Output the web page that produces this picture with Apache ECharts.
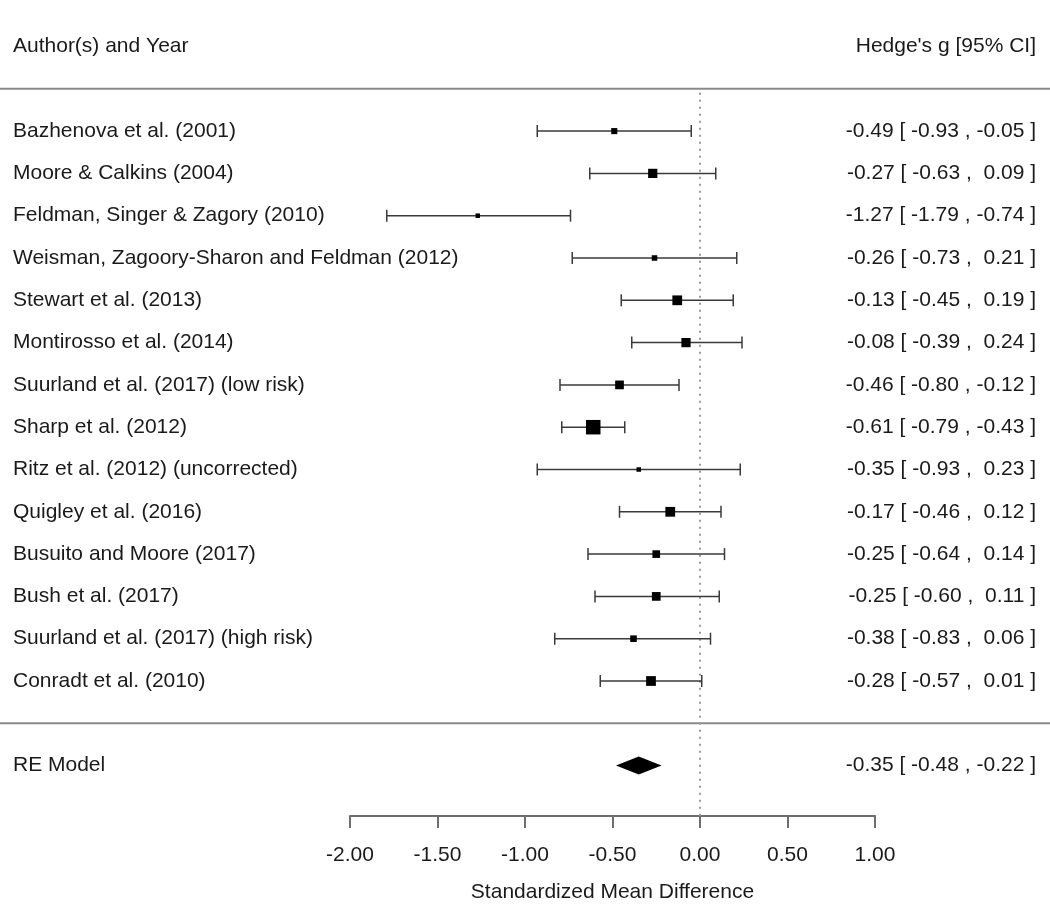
<!DOCTYPE html>
<html>
<head>
<meta charset="utf-8">
<script src="https://cdn.jsdelivr.net/npm/echarts@6/dist/echarts.min.js"></script>
<style>html,body{margin:0;padding:0;background:#fff;}#chart{width:1050px;height:904px;}</style>
</head>
<body>
<div id="chart"></div>
<script>
// ---------------- data ----------------
const studies = [
  "Bazhenova et al. (2001)",
  "Moore & Calkins (2004)",
  "Feldman, Singer & Zagory (2010)",
  "Weisman, Zagoory-Sharon and Feldman (2012)",
  "Stewart et al. (2013)",
  "Montirosso et al. (2014)",
  "Suurland et al. (2017) (low risk)",
  "Sharp et al. (2012)",
  "Ritz et al. (2012) (uncorrected)",
  "Quigley et al. (2016)",
  "Busuito and Moore (2017)",
  "Bush et al. (2017)",
  "Suurland et al. (2017) (high risk)",
  "Conradt et al. (2010)"
];
const estimates = [-0.49, -0.27, -1.27, -0.26, -0.13, -0.08, -0.46, -0.61, -0.35, -0.17, -0.25, -0.25, -0.38, -0.28];
const lowerCI   = [-0.93, -0.63, -1.79, -0.73, -0.45, -0.39, -0.80, -0.79, -0.93, -0.46, -0.64, -0.60, -0.83, -0.57];
const upperCI   = [-0.05,  0.09, -0.74,  0.21,  0.19,  0.24, -0.12, -0.43,  0.23,  0.12,  0.14,  0.11,  0.06,  0.01];
// estimated relative weights (%), read from square sizes
const weights   = [5.0, 8.0, 3.5, 4.5, 8.5, 8.0, 7.5, 13.0, 3.5, 8.5, 6.5, 7.5, 5.5, 8.5];
const summaryLabel = "RE Model";
const summaryEst = -0.35, summaryLo = -0.48, summaryHi = -0.22;
const xTicks = [-2.0, -1.5, -1.0, -0.5, 0.0, 0.5, 1.0];
const headerLeft = "Author(s) and Year";
const headerRight = "Hedge's g [95% CI]";
const xAxisName = "Standardized Mean Difference";

// ---------------- layout ----------------
const W = 1050;
const ROW_H = 42.3, ROW1_PX = 681;
const Y_MIN = -3, Y_MAX = 17;
const N = studies.length;
const HEADER_ROW = N + 2, TOP_RULE = N + 1, BOTTOM_RULE = 0, SUMMARY_ROW = -1, AXIS_ROW = -2.3;
const rowPx = v => ROW1_PX - (v - 1) * ROW_H;
const FAMILY = '"Liberation Sans", Arial, sans-serif';
const FONT = '21px ' + FAMILY;
const TEXT_COLOR = '#1a1a1a';
const LEFT_PAD = 13, RIGHT_PAD = 14;

const fmt = v => (v >= 0 ? ' ' : '') + v.toFixed(2);
const annot = (e, l, h) => `${fmt(e)} [ ${fmt(l)} , ${fmt(h)} ]`;

const wMin = Math.min(...weights), wMax = Math.max(...weights);
const sizeOf = w => 4.5 + (w - wMin) / (wMax - wMin) * 10;

const studyData = studies.map((s, i) => [estimates[i], lowerCI[i], upperCI[i], N - i, weights[i], i]);

const chart = echarts.init(document.getElementById('chart'), null, {renderer: 'canvas'});

function textEl(text, x, y, align) {
  return {
    type: 'text',
    style: {text, x, y, font: FONT, fill: TEXT_COLOR, align, verticalAlign: 'middle',
            textAlign: align, textVerticalAlign: 'middle'}
  };
}

const option = {
  animation: false,
  backgroundColor: '#fff',
  grid: [
    {left: 0, width: W, top: rowPx(Y_MAX), height: (Y_MAX - Y_MIN) * ROW_H},
    {left: 350, width: 525, top: rowPx(AXIS_ROW) - 10, height: 10}
  ],
  xAxis: [
    {gridIndex: 0, type: 'value', min: -4, max: 2, show: false},
    {gridIndex: 1, type: 'value', min: xTicks[0], max: xTicks[xTicks.length - 1], interval: xTicks[1] - xTicks[0],
     axisLine: {show: true, lineStyle: {color: '#6e6e6e', width: 2}},
     axisTick: {show: true, length: 12, lineStyle: {color: '#6e6e6e', width: 2}},
     splitLine: {show: false},
     axisLabel: {margin: 29, color: TEXT_COLOR, fontSize: 21, fontFamily: FAMILY,
                 formatter: v => v.toFixed(2), showMinLabel: true, showMaxLabel: true},
     name: xAxisName, nameLocation: 'middle', nameGap: 66,
     nameTextStyle: {color: TEXT_COLOR, fontSize: 21, fontFamily: FAMILY}}
  ],
  yAxis: [
    {gridIndex: 0, type: 'value', min: Y_MIN, max: Y_MAX, show: false},
    {gridIndex: 1, type: 'value', min: 0, max: 1, show: false}
  ],
  series: [
    {
      type: 'custom', xAxisIndex: 0, yAxisIndex: 0, clip: false, silent: true,
      data: [[0, TOP_RULE]],
      renderItem: (params, api) => {
        const x0 = params.coordSys.x, x1 = params.coordSys.x + params.coordSys.width;
        const zTop = api.coord([0, TOP_RULE]);
        const zBot = api.coord([0, AXIS_ROW]);
        const yTop = api.coord([0, TOP_RULE])[1];
        const yBot = api.coord([0, BOTTOM_RULE])[1];
        const yHead = api.coord([0, HEADER_ROW])[1];
        return {type: 'group', children: [
          {type: 'line', shape: {x1: x0, y1: yTop, x2: x1, y2: yTop}, style: {stroke: '#8a8a8a', lineWidth: 2}},
          {type: 'line', shape: {x1: x0, y1: yBot, x2: x1, y2: yBot}, style: {stroke: '#8a8a8a', lineWidth: 2}},
          {type: 'line', shape: {x1: zTop[0], y1: zTop[1] + 4, x2: zBot[0], y2: zBot[1]},
           style: {stroke: '#9a9a9a', lineWidth: 2, lineDash: [2, 5]}},
          textEl(headerLeft, x0 + LEFT_PAD, yHead, 'left'),
          textEl(headerRight, x1 - RIGHT_PAD, yHead, 'right')
        ]};
      }
    },
    {
      type: 'custom', xAxisIndex: 0, yAxisIndex: 0, clip: false, silent: true,
      data: studyData,
      renderItem: (params, api) => {
        const x0 = params.coordSys.x, x1 = params.coordSys.x + params.coordSys.width;
        const e = api.value(0), l = api.value(1), h = api.value(2), r = api.value(3), w = api.value(4);
        const i = api.value(5);
        const pe = api.coord([e, r]), pl = api.coord([l, r]), ph = api.coord([h, r]);
        const s = sizeOf(w);
        const cap = 6;
        return {type: 'group', children: [
          {type: 'line', shape: {x1: pl[0], y1: pl[1], x2: ph[0], y2: ph[1]}, style: {stroke: '#3a3a3a', lineWidth: 1.5}},
          {type: 'line', shape: {x1: pl[0], y1: pl[1] - cap, x2: pl[0], y2: pl[1] + cap}, style: {stroke: '#3a3a3a', lineWidth: 1.5}},
          {type: 'line', shape: {x1: ph[0], y1: ph[1] - cap, x2: ph[0], y2: ph[1] + cap}, style: {stroke: '#3a3a3a', lineWidth: 1.5}},
          {type: 'rect', shape: {x: pe[0] - s / 2, y: pe[1] - s / 2, width: s, height: s}, style: {fill: '#000'}},
          textEl(studies[i], x0 + LEFT_PAD, pe[1], 'left'),
          textEl(annot(e, l, h), x1 - RIGHT_PAD, pe[1], 'right')
        ]};
      }
    },
    {
      type: 'custom', xAxisIndex: 0, yAxisIndex: 0, clip: false, silent: true,
      data: [[summaryEst, summaryLo, summaryHi, SUMMARY_ROW]],
      renderItem: (params, api) => {
        const x0 = params.coordSys.x, x1 = params.coordSys.x + params.coordSys.width;
        const e = api.value(0), l = api.value(1), h = api.value(2), r = api.value(3);
        const pe = api.coord([e, r]), pl = api.coord([l, r]), ph = api.coord([h, r]);
        const hh = 9;
        return {type: 'group', children: [
          {type: 'polygon', shape: {points: [[pl[0], pl[1]], [pe[0], pe[1] - hh], [ph[0], ph[1]], [pe[0], pe[1] + hh]]},
           style: {fill: '#000'}},
          textEl(summaryLabel, x0 + LEFT_PAD, pe[1], 'left'),
          textEl(annot(e, l, h), x1 - RIGHT_PAD, pe[1], 'right')
        ]};
      }
    }
  ]
};
chart.setOption(option);
</script>
</body>
</html>
